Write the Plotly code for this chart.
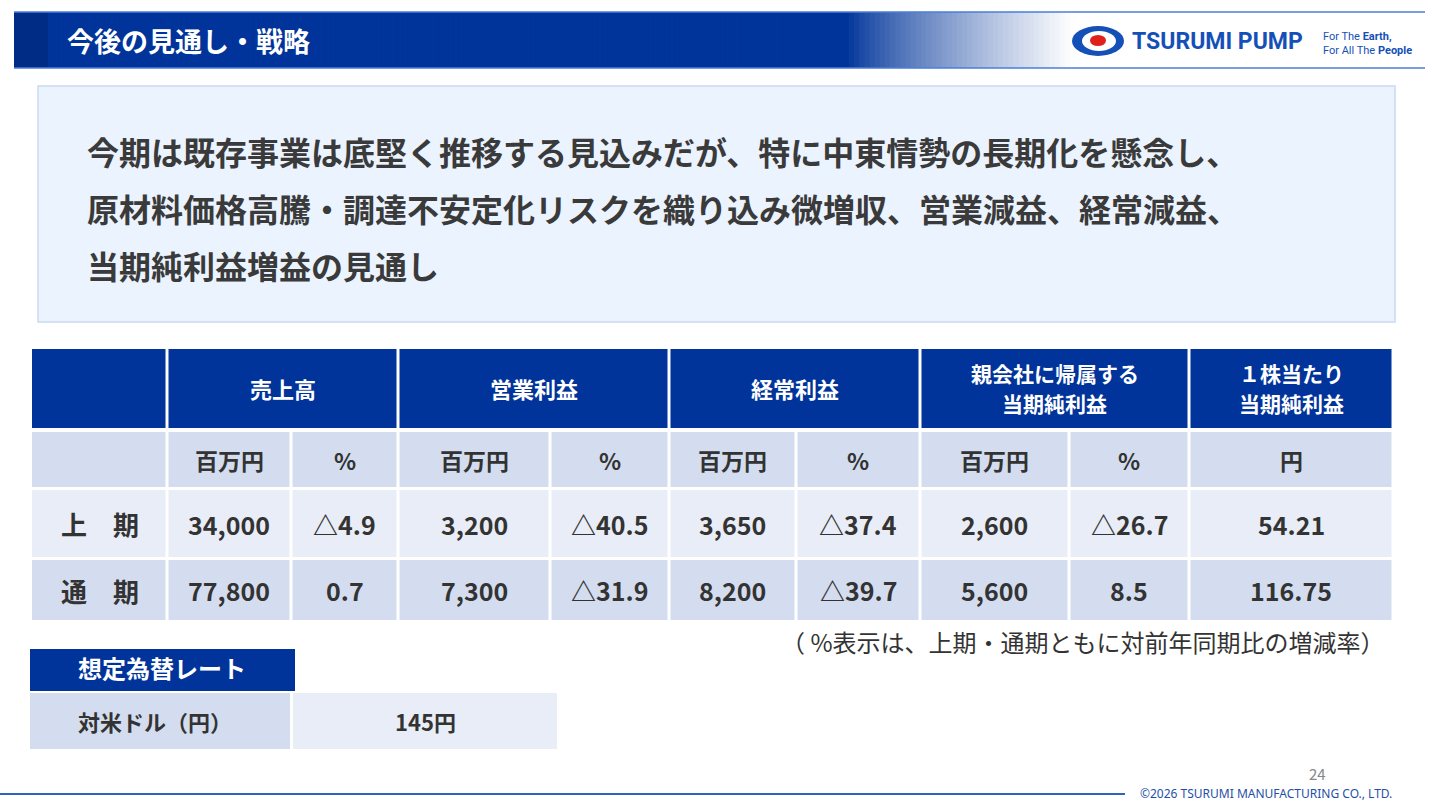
import plotly.graph_objects as go

title = "今後の見通し・戦略"
summary = ["今期は既存事業は底堅く推移する見込みだが、特に中東情勢の長期化を懸念し、",
           "原材料価格高騰・調達不安定化リスクを織り込み微増収、営業減益、経常減益、",
           "当期純利益増益の見通し"]
groups = [["売上高"], ["営業利益"], ["経常利益"], ["親会社に帰属する", "当期純利益"], ["１株当たり", "当期純利益"]]
units = ["百万円", "%", "百万円", "%", "百万円", "%", "百万円", "%", "円"]
row_labels = ["上　期", "通　期"]
row_h1 = ["34,000", "△4.9", "3,200", "△40.5", "3,650", "△37.4", "2,600", "△26.7", "54.21"]
row_fy = ["77,800", "0.7", "7,300", "△31.9", "8,200", "△39.7", "5,600", "8.5", "116.75"]
note = "（ %表示は、上期・通期ともに対前年同期比の増減率）"
fx_title = "想定為替レート"
fx_label = "対米ドル（円）"
fx_value = "145円"

NAVY = "#00349A"; SUB = "#D3DDEF"; LIGHT = "#E8EDF7"; TXT = "#333333"
F = "Noto Sans CJK JP"
shapes = []; ann = []

def rect(x0, y0, x1, y1, fill, line=None, lw=0):
    shapes.append(dict(type="rect", x0=x0, y0=y0, x1=x1, y1=y1, fillcolor=fill,
                       line=dict(color=line or fill, width=lw), layer="below"))

def text(x, y, s, size=20, color=TXT, xa="center", bold=True, ya="middle"):
    ann.append(dict(x=x, y=y, text=f"<b>{s}</b>" if bold else s, showarrow=False, xanchor=xa,
                    yanchor=ya, borderpad=0, font=dict(family=F, size=size, color=color)))

# header gradient
x_start, x_end = 48, 1075
n = 200
for i in range(n):
    t = i / (n - 1)
    f = min(1, max(0, (t - 0.78) / 0.22)) ** 0.8
    r = int(0x00 + (255 - 0x00) * f); g_ = int(0x34 + (255 - 0x34) * f); b = int(0x9A + (255 - 0x9A) * f)
    xa0 = x_start + (x_end - x_start) * i / n
    rect(xa0, 12, xa0 + (x_end - x_start) / n + 0.8, 68, f"rgb({r},{g_},{b})")
rect(14, 12, 48, 68, "#002C86")
shapes.append(dict(type="line", x0=14, y0=12, x1=1425, y1=12, line=dict(color="#4A7FD6", width=1.5)))
shapes.append(dict(type="line", x0=14, y0=68, x1=1425, y1=68, line=dict(color="#4A7FD6", width=1.5)))
text(66, 40, title, 27, "white", "left")

# logo
shapes.append(dict(type="circle", x0=1072, y0=26, x1=1124, y1=56, fillcolor="#1550B8", line=dict(width=0)))
shapes.append(dict(type="circle", x0=1082, y0=31, x1=1116, y1=51, fillcolor="white", line=dict(width=0)))
shapes.append(dict(type="circle", x0=1090, y0=35, x1=1106, y1=46, fillcolor="#E0201B", line=dict(width=0)))
ann.append(dict(x=1130, y=41, text="<b>TSURUMI PUMP</b>", showarrow=False, xanchor="left",
                font=dict(family="Roboto", size=23, color="#1550B8")))
ann.append(dict(x=1322, y=36, text="For The <b>Earth,</b>", showarrow=False, xanchor="left", borderpad=0,
                font=dict(family="Roboto", size=11, color="#1550B8")))
ann.append(dict(x=1322, y=50, text="For All The <b>People</b>", showarrow=False, xanchor="left", borderpad=0,
                font=dict(family="Roboto", size=11, color="#1550B8")))

# summary box
shapes.append(dict(type="rect", x0=38, y0=86, x1=1395, y1=322, fillcolor="#EAF3FE",
                   line=dict(color="#C9DAF0", width=1.5), layer="below"))
for i, s in enumerate(summary):
    text(86, 151 + i * 57, s, 32, "#3A3A3A", "left")

# table
cols = [32, 167, 291, 398, 550, 669, 796, 920, 1069, 1189, 1393]
g = 3
gx = [(1, 3), (3, 5), (5, 7), (7, 9), (9, 10)]
rect(cols[0], 349, cols[1] - g / 2, 428, NAVY)
for (a, b), lines in zip(gx, groups):
    rect(cols[a] + g / 2, 349, cols[b] - g / 2, 428, NAVY)
    if len(lines) == 1:
        text((cols[a] + cols[b]) / 2, 388, lines[0], 22, "white")
    else:
        text((cols[a] + cols[b]) / 2, 389, lines[0], 21, "white", ya="bottom")
        text((cols[a] + cols[b]) / 2, 387, lines[1], 21, "white", ya="top")
rows = [(432, 487, SUB, [""] + units), (490, 557, LIGHT, [row_labels[0]] + row_h1),
        (560, 620, SUB, [row_labels[1]] + row_fy)]
for ri, (y0, y1, fill, vals) in enumerate(rows):
    for c in range(10):
        x0 = cols[c] + (g / 2 if c else 0); x1 = cols[c + 1] - g / 2
        rect(x0, y0, x1, y1, fill)
        size = 23 if ri == 0 else (26 if c == 0 else 25)
        text((cols[c] + cols[c + 1]) / 2, (y0 + y1) / 2, vals[c], size)
text(1385, 641, note, 24, TXT, "right", bold=False)

# fx table
rect(30, 649, 295, 691, NAVY)
text(162, 667, fx_title, 24, "white")
rect(30, 693, 290, 749, SUB); rect(293, 693, 557, 749, LIGHT)
text(155, 721, fx_label, 22); text(425, 721, fx_value, 22)

# footer
text(1317, 773, "24", 15, "#888888", bold=False)
shapes.append(dict(type="line", x0=0, y0=794, x1=1125, y1=794, line=dict(color="#2E62C4", width=2)))
ann.append(dict(x=1394, y=793, text="©2026 TSURUMI MANUFACTURING CO., LTD.", showarrow=False,
                xanchor="right", font=dict(family="Noto Sans", size=12, color="#1F4FA8")))

fig = go.Figure()
fig.update_layout(width=1440, height=810, margin=dict(l=0, r=0, t=0, b=0),
                  paper_bgcolor="white", plot_bgcolor="white", shapes=shapes, annotations=ann,
                  xaxis=dict(range=[0, 1440], visible=False, fixedrange=True),
                  yaxis=dict(range=[810, 0], visible=False, fixedrange=True), showlegend=False)
fig.write_html("out.html", config={"displayModeBar": False},
               post_script="document.body.style.margin='0';document.body.style.overflow='hidden';")
